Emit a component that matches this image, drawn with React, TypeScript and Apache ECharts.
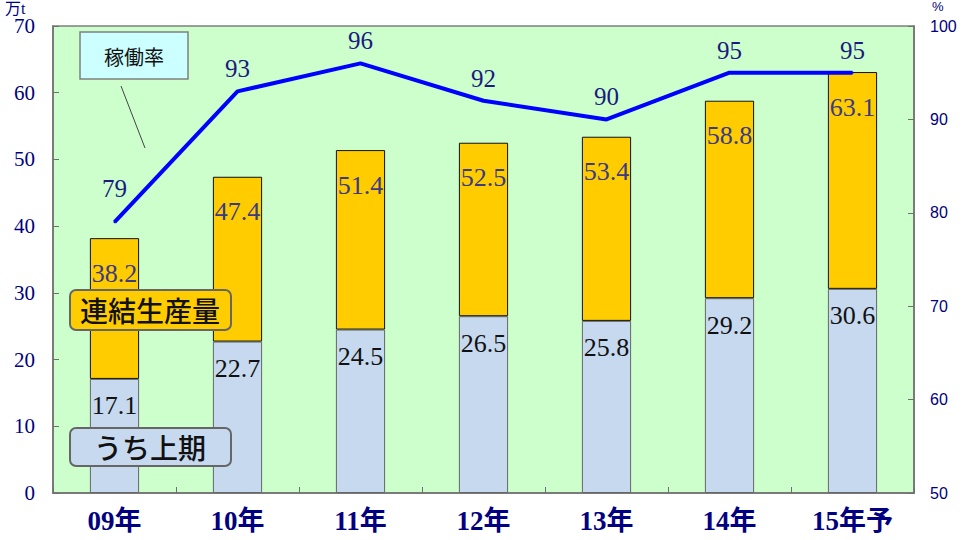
import React, { useEffect, useRef } from "react";
import * as echarts from "echarts";

const categories = ["09年", "10年", "11年", "12年", "13年", "14年", "15年予"];
const firstHalf = [17.1, 22.7, 24.5, 26.5, 25.8, 29.2, 30.6];
const totalProduction = [38.2, 47.4, 51.4, 52.5, 53.4, 58.8, 63.1];
const operatingRate = [79, 93, 96, 92, 90, 95, 95];
const leftTicks = [0, 10, 20, 30, 40, 50, 60, 70];
const rightTicks = [50, 60, 70, 80, 90, 100];

export default function App() {
  const ref = useRef<HTMLDivElement>(null);
  useEffect(() => {
    if (!ref.current) return;
    const chart = echarts.init(ref.current, null, { renderer: "svg" });
    const upper = totalProduction.map((t, i) => +(t - firstHalf[i]).toFixed(1));
    const serif = "'Liberation Serif', 'DejaVu Serif', serif";
    const serifCjk = "'Liberation Serif', 'Noto Sans CJK JP', serif";
    const sans = "'Liberation Sans', Arial, sans-serif";
    const cjk = "'Noto Sans CJK JP', sans-serif";
    chart.setOption({
      animation: false,
      grid: {
        left: 53,
        right: 49,
        top: 26,
        bottom: 47,
        show: true,
        backgroundColor: "#ccffcc",
        borderColor: "#7f7f7f",
        borderWidth: 1.5,
      },
      xAxis: {
        type: "category",
        data: categories,
        axisLine: { lineStyle: { color: "#6f6f6f", width: 1.5 } },
        axisTick: { show: true, inside: true, length: 6, alignWithLabel: false, lineStyle: { color: "#6f6f6f" } },
        axisLabel: {
          color: "#000080",
          fontFamily: serifCjk,
          fontWeight: "bold",
          fontSize: 27,
          margin: 14,
        },
      },
      yAxis: [
        {
          type: "value",
          min: 0,
          max: 70,
          interval: 10,
          splitLine: { show: false },
          axisLine: { show: true, lineStyle: { color: "#6f6f6f", width: 1.5 } },
          axisTick: { show: true, inside: true, length: 6, lineStyle: { color: "#6f6f6f" } },
          axisLabel: {
            color: "#000080",
            fontFamily: serif,
            fontSize: 21,
            margin: 18,
            formatter: (v: number) => (leftTicks.includes(v) ? String(v) : ""),
          },
        },
        {
          type: "value",
          min: 50,
          max: 100,
          interval: 10,
          position: "right",
          splitLine: { show: false },
          axisLine: { show: true, lineStyle: { color: "#6f6f6f", width: 1.5 } },
          axisTick: { show: true, inside: true, length: 6, lineStyle: { color: "#6f6f6f" } },
          axisLabel: {
            color: "#000080",
            fontFamily: sans,
            fontSize: 16,
            margin: 16,
            formatter: (v: number) => (rightTicks.includes(v) ? String(v) : ""),
          },
        },
      ],
      series: [
        {
          type: "bar",
          stack: "p",
          data: firstHalf,
          barWidth: "40%",
          itemStyle: { color: "#c6d9ef", borderColor: "#666666", borderWidth: 1 },
          label: {
            show: true,
            position: "insideTop",
            distance: 14,
            color: "#111111",
            fontFamily: serif,
            fontSize: 26,
            formatter: (p: any) => firstHalf[p.dataIndex].toFixed(1),
          },
        },
        {
          type: "bar",
          stack: "p",
          data: upper,
          barWidth: "40%",
          itemStyle: { color: "#ffcc00", borderColor: "#111111", borderWidth: 1 },
          label: {
            show: true,
            position: "insideTop",
            distance: 22,
            color: "#3a3a85",
            fontFamily: serif,
            fontSize: 26,
            formatter: (p: any) => totalProduction[p.dataIndex].toFixed(1),
          },
        },
        {
          type: "line",
          yAxisIndex: 1,
          z: 5,
          data: operatingRate.map((v, i) =>
            i === 0 ? { value: v, label: { distance: 20 } } : v
          ),
          symbol: "circle",
          symbolSize: 2,
          showSymbol: true,
          itemStyle: { color: "#0000ff" },
          lineStyle: { color: "#0000ff", width: 4 },
          label: {
            show: true,
            position: "top",
            distance: 9,
            color: "#1a1a80",
            fontFamily: serif,
            fontSize: 25,
          },
        },
      ],
      graphic: [
        {
          type: "text",
          left: 5,
          top: 0,
          z: 100,
          style: { text: "万t", fill: "#000080", font: `16px ${serifCjk}` },
        },
        {
          type: "text",
          left: 932,
          top: 0,
          z: 100,
          style: { text: "%", fill: "#000080", font: `13px ${sans}` },
        },
        {
          type: "line",
          z: 100,
          shape: { x1: 121, y1: 86, x2: 145, y2: 148 },
          style: { stroke: "#444444", lineWidth: 1 },
        },
        {
          type: "rect",
          z: 100,
          shape: { x: 80, y: 32, width: 108, height: 47 },
          style: { fill: "#ccffff", stroke: "#808080", lineWidth: 1.5 },
        },
        {
          type: "text",
          z: 101,
          x: 134,
          y: 56,
          style: {
            text: "稼働率",
            fill: "#111111",
            font: `20px ${cjk}`,
            align: "center",
            verticalAlign: "middle",
          },
        },
        {
          type: "rect",
          z: 100,
          shape: { x: 70, y: 290, width: 161, height: 40, r: 6 },
          style: { fill: "#ffcc00", stroke: "#666666", lineWidth: 2 },
        },
        {
          type: "text",
          z: 101,
          x: 150,
          y: 310,
          style: {
            text: "連結生産量",
            fill: "#111111",
            font: `500 28px ${cjk}`,
            align: "center",
            verticalAlign: "middle",
          },
        },
        {
          type: "rect",
          z: 100,
          shape: { x: 70, y: 428, width: 161, height: 38, r: 6 },
          style: { fill: "#c6d9ef", stroke: "#666666", lineWidth: 2 },
        },
        {
          type: "text",
          z: 101,
          x: 150,
          y: 447,
          style: {
            text: "うち上期",
            fill: "#111111",
            font: `500 28px ${cjk}`,
            align: "center",
            verticalAlign: "middle",
          },
        },
      ],
    });
    return () => chart.dispose();
  }, []);
  return (
    <div
      ref={ref}
      style={{ position: "fixed", left: 0, top: 0, width: 963, height: 540, background: "#ffffff" }}
    />
  );
}
